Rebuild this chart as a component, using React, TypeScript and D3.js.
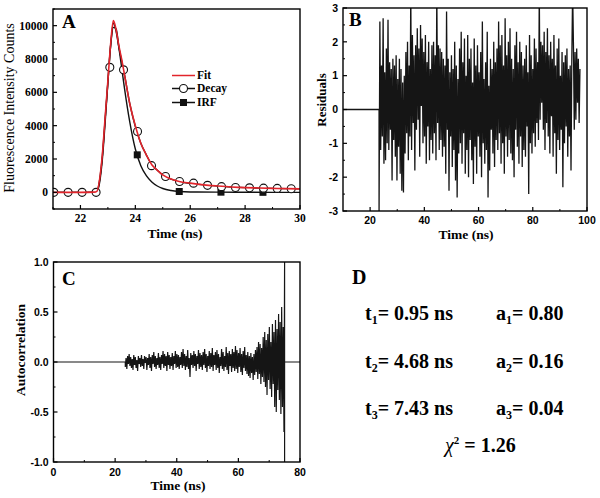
import * as d3 from "d3";

// ---- panel A : decay curves ----
const fitTime = [21, 22, 22.5, 22.6, 22.7, 22.8, 22.9, 23.0, 23.1, 23.2, 23.3, 23.4, 23.5, 23.6, 23.8, 24.0, 24.2, 24.4, 24.6, 24.8, 25.0, 25.3, 25.6, 26.0, 26.5, 27.0, 27.5, 28.0, 28.5, 29.0, 29.5, 30];
const fitCounts = [0, 0, 10, 60, 800, 2300, 4500, 6700, 8900, 10300, 9750, 8800, 8000, 7100, 5300, 4000, 2950, 2250, 1650, 1330, 1050, 800, 650, 550, 450, 380, 320, 280, 260, 240, 220, 210];
const decayCounts = [0, 0, 10, 50, 750, 2200, 4400, 6600, 8800, 10150, 9650, 8700, 7900, 7100, 5300, 3950, 2950, 2250, 1650, 1330, 1030, 790, 640, 540, 445, 375, 320, 280, 255, 240, 220, 210];
const decayMarkTime = [21.03, 21.55, 22.06, 22.57, 23.07, 23.57, 24.08, 24.59, 25.1, 25.61, 26.12, 26.63, 27.14, 27.65, 28.16, 28.67, 29.17, 29.68];
const decayMarkCounts = [0, 0, 0, 0, 7500, 7350, 3650, 1600, 950, 650, 550, 420, 340, 290, 270, 250, 235, 215];
const irfTime = [21, 22, 22.5, 22.6, 22.7, 22.8, 22.9, 23.0, 23.1, 23.2, 23.3, 23.4, 23.5, 23.6, 23.8, 24.0, 24.2, 24.4, 24.6, 24.8, 25.0, 25.3, 25.6, 26, 27, 28, 29, 30];
const irfCounts = [0, 0, 0, 40, 600, 2000, 4200, 6600, 8800, 9900, 9800, 8700, 7500, 6300, 4200, 2600, 1600, 1000, 620, 380, 230, 110, 50, 20, 10, 5, 0, 0];
const irfMarkTime = [24.07, 25.6, 27.12, 28.65];
const irfMarkCounts = [2250, 50, 10, 0];
const countTicks = [0, 2000, 4000, 6000, 8000, 10000];
const countMinor = [-1000, 1000, 3000, 5000, 7000, 9000, 11000];
const timeTicksA = [22, 24, 26, 28, 30];
const timeMinorA = [21, 23, 25, 27, 29];
const legendA = ["Fit", "Decay", "IRF"];

// ---- panel B : residuals ----
const residLeadTime = [10, 23.3];
const residStart = 23.3;
const residStep = 0.3;
const residuals = [
  -3.2, 2.6, -1.2, 1.3, -0.8, 2.7, -1.6, 1.1, -1.5, 1.8,
  -1.0, 2.65, -1.2, 1.4, -0.6, 1.2, -2.1, 1.5, -0.9, 1.3,
  -1.4, 1.6, -2.1, 0.9, -1.1, 1.5, -1.9, 1.2, -2.4, 0.8,
  -2.45, 1.0, -1.3, 1.7, -0.7, 2.0, -1.5, 1.3, -0.8, 3.5,
  -1.2, 2.2, -0.4, 1.6, -1.8, 1.9, -0.6, 2.4, -0.3, 1.8,
  -1.4, 2.5, 0.1, 2.1, -1.0, 1.7, -0.8, 2.2, -1.6, 1.4,
  -0.5, 2.0, -1.5, 1.2, -0.9, 1.9, -1.3, 2.0, -0.7, 1.6,
  -1.5, 3.5, -0.4, 1.9, -1.2, 1.8, -0.9, 1.7, -1.4, 1.5,
  -1.1, 1.3, -1.9, 2.9, -0.6, 1.5, -2.4, 1.1, -0.8, 1.6,
  -1.7, 1.2, -1.2, 2.0, -2.1, 1.3, -2.6, 0.9, -1.3, 1.8,
  -1.0, 2.3, -1.6, 1.4, -0.7, 2.1, -1.9, 1.0, -1.2, 2.2,
  -2.0, 1.5, -0.9, 1.8, -1.5, 0.8, -2.2, 2.1, -1.1, 1.3,
  -1.9, 1.9, -0.8, 1.1, -1.4, 1.7, -2.0, 2.6, -1.0, 0.9,
  -1.6, 1.4, -1.2, 2.3, -2.6, 0.7, -1.8, 1.5, -0.6, 1.2,
  -1.3, 2.0, -1.7, 1.4, -0.9, 1.8, -1.2, 2.6, -0.7, 1.9,
  -1.6, 2.2, -1.0, 1.3, -1.9, 2.7, -0.8, 1.6, -1.4, 2.0,
  -0.9, 2.4, -1.3, 1.5, -1.5, 1.2, -2.0, 1.9, -0.6, 2.3,
  -1.1, 1.4, -1.6, 2.0, -0.8, 1.7, -1.7, 1.3, -1.2, 1.5,
  -1.4, 1.9, -0.5, 1.1, -2.5, 2.2, -1.0, 1.6, -1.3, 1.2,
  -0.7, 2.1, -1.1, 1.8, -0.4, 1.4, -0.9, 3.5, -0.3, 2.0,
  0.2, 1.9, -0.6, 2.3, -1.2, 1.7, -0.4, 2.4, -0.8, 1.6,
  -1.3, 2.0, -0.2, 1.5, -1.4, 2.2, -0.7, 1.3, -1.9, 1.8,
  -0.9, 2.1, -1.2, 1.0, -0.6, 1.7, -2.3, 1.4, -1.0, 1.6,
  -0.5, 1.8, -1.4, 1.2, -0.8, 1.3, -1.8, 1.5, 3.5, 1.9,
  -0.6, 1.7, -0.3, 1.8, 0.2, 1.5, -0.4, 1.2,
];
const residTicksY = [-3, -2, -1, 0, 1, 2, 3];
const residMinorY = [-2.5, -1.5, -0.5, 0.5, 1.5, 2.5];
const timeTicksB = [20, 40, 60, 80, 100];
const timeMinorB = [30, 50, 70, 90];

// ---- panel C : autocorrelation ----
const acLeadTime = [0, 23.3];
const acStart = 23.3;
const acStep = 0.25;
const autocorr = [
  -0.05, 0.04, -0.07, 0.06, -0.02, 0.08, -0.04, 0.05, -0.06, 0.03,
  -0.08, 0.07, -0.03, 0.05, -0.06, 0.02, -0.09, 0.06, -0.02, 0.04,
  -0.05, 0.07, -0.04, 0.03, -0.07, 0.06, -0.01, 0.05, -0.08, 0.04,
  -0.03, 0.08, -0.06, 0.05, -0.09, 0.07, -0.02, 0.10, -0.05, 0.06,
  -0.07, 0.04, -0.03, 0.09, -0.06, 0.05, -0.08, 0.07, -0.02, 0.11,
  -0.06, 0.08, -0.04, 0.06, -0.09, 0.10, -0.03, 0.07, -0.07, 0.05,
  -0.04, 0.09, -0.08, 0.06, -0.02, 0.11, -0.06, 0.08, -0.05, 0.07,
  -0.07, 0.05, -0.03, 0.10, -0.06, 0.13, -0.04, 0.08, -0.08, 0.06,
  -0.05, 0.12, -0.07, 0.04, -0.15, 0.09, -0.03, 0.07, -0.06, 0.11,
  -0.04, 0.08, -0.09, 0.06, -0.02, 0.12, -0.07, 0.09, -0.05, 0.07,
  -0.08, 0.10, -0.03, 0.13, -0.06, 0.08, -0.10, 0.06, -0.04, 0.11,
  -0.07, 0.09, -0.05, 0.14, -0.09, 0.07, -0.03, 0.10, -0.08, 0.12,
  -0.06, 0.08, -0.11, 0.05, -0.04, 0.13, -0.07, 0.10, -0.09, 0.06,
  -0.05, 0.15, -0.08, 0.09, -0.12, 0.11, -0.04, 0.08, -0.10, 0.13,
  -0.06, 0.10, -0.09, 0.16, -0.07, 0.12, -0.11, 0.09, -0.05, 0.14,
  -0.10, 0.08, -0.13, 0.11, -0.06, 0.15, -0.09, 0.07, -0.12, 0.10,
  -0.14, 0.06, -0.16, 0.09, -0.11, 0.05, -0.18, 0.08, -0.13, 0.12,
  -0.10, 0.15, -0.17, 0.20, -0.12, 0.18, -0.22, 0.14, -0.15, 0.25,
  -0.20, 0.30, -0.25, 0.22, -0.33, 0.28, -0.18, 0.35, -0.27, 0.20,
  -0.35, 0.38, -0.22, 0.30, -0.45, 0.42, -0.50, 0.33, -0.28, 0.48,
  -0.38, 0.40, -0.52, 0.55, -0.45, 0.35, -0.70,
];
const acTailTime = [75, 75, 75, 80];
const acTailValue = [1.0, -1.0, 0, 0];
const acTicksY = [-1, -0.5, 0, 0.5, 1];
const acMinorY = [-0.75, -0.25, 0.25, 0.75];
const timeTicksC = [0, 20, 40, 60, 80];
const timeMinorC = [10, 30, 50, 70];

// ---- panel D : fit parameters ----
const tauLabels = ["0.95", "4.68", "7.43"];
const ampLabels = ["0.80", "0.16", "0.04"];
const chiSq = "1.26";

const SERIF = "'Liberation Serif', 'Times New Roman', serif";
const SANS = "'Liberation Sans', Arial, sans-serif";
const RED = "#e2242b";

type Scale = d3.ScaleLinear<number, number>;

function Frame({ x, y, xTicks, xMinor, yTicks, yMinor, fmtY, font, size, xLabelDy }: any) {
  const [x0, x1] = x.range();
  const [y0, y1] = y.range();
  return (
    <g>
      {xTicks.map((t: number) => (
        <g key={"xt" + t}>
          <line x1={x(t)} x2={x(t)} y1={y0} y2={y0 - 4} stroke="#000" strokeWidth={1.2} />
          <text x={x(t)} y={y0 + xLabelDy} textAnchor="middle" fontFamily={font} fontWeight="bold" fontSize={size}>{t}</text>
        </g>
      ))}
      {xMinor.map((t: number) => (
        <line key={"xm" + t} x1={x(t)} x2={x(t)} y1={y0} y2={y0 - 2} stroke="#000" strokeWidth={1} />
      ))}
      {yTicks.map((t: number) => (
        <g key={"yt" + t}>
          <line x1={x0} x2={x0 + 4} y1={y(t)} y2={y(t)} stroke="#000" strokeWidth={1.2} />
          <text x={x0 - 5} y={y(t) + size * 0.35} textAnchor="end" fontFamily={font} fontWeight="bold" fontSize={size}>{fmtY(t)}</text>
        </g>
      ))}
      {yMinor.map((t: number) => (
        <line key={"ym" + t} x1={x0} x2={x0 + 2} y1={y(t)} y2={y(t)} stroke="#000" strokeWidth={1} />
      ))}
      <rect x={x0} y={y1} width={x1 - x0} height={y0 - y1} fill="none" stroke="#000" strokeWidth={1.4} />
    </g>
  );
}

export default function App() {
  // panel A
  const xA: Scale = d3.scaleLinear().domain([21, 30]).range([53, 300]);
  const yA: Scale = d3.scaleLinear().domain([-1000, 11000]).range([209, 9]);
  const lineA = d3.line<[number, number]>().x((d) => xA(d[0])).y((d) => yA(d[1])).curve(d3.curveMonotoneX);
  const fitPath = lineA(fitTime.map((t, i) => [t, fitCounts[i]]));
  const decayPath = lineA(fitTime.map((t, i) => [t, decayCounts[i]]));
  const irfPath = lineA(irfTime.map((t, i) => [t, irfCounts[i]]));

  // panel B
  const xB: Scale = d3.scaleLinear().domain([10, 100]).range([343, 587]);
  const yB: Scale = d3.scaleLinear().domain([-3, 3]).range([211, 8]);
  const residPts: [number, number][] = [
    ...residLeadTime.map((t) => [t, 0] as [number, number]),
    ...residuals.map((v, i) => [residStart + i * residStep, v] as [number, number]),
  ];
  const residPath = d3.line<[number, number]>().x((d) => xB(d[0])).y((d) => yB(d[1]))(residPts);

  // panel C
  const xC: Scale = d3.scaleLinear().domain([0, 80]).range([53.5, 300]);
  const yC: Scale = d3.scaleLinear().domain([-1, 1]).range([462, 262]);
  const acPts: [number, number][] = [
    ...acLeadTime.map((t) => [t, 0] as [number, number]),
    ...autocorr.map((v, i) => [acStart + i * acStep, v] as [number, number]),
    ...acTailTime.map((t, i) => [t, acTailValue[i]] as [number, number]),
  ];
  const acPath = d3.line<[number, number]>().x((d) => xC(d[0])).y((d) => yC(d[1]))(acPts);

  const legY = [75.5, 88.5, 102.5];

  return (
    <svg width={600} height={498} style={{ position: "absolute", left: 0, top: 0, background: "#fff" }}>
      <defs>
        <clipPath id="clipA"><rect x={53} y={9} width={247} height={200} /></clipPath>
        <clipPath id="clipB"><rect x={343} y={8} width={244} height={203} /></clipPath>
        <clipPath id="clipC"><rect x={53.5} y={262} width={246.5} height={200} /></clipPath>
      </defs>

      {/* A */}
      <g clipPath="url(#clipA)">
        <path d={irfPath!} fill="none" stroke="#111" strokeWidth={1.4} />
        <path d={decayPath!} fill="none" stroke="#111" strokeWidth={1.4} />
        {irfMarkTime.map((t, i) => (
          <rect key={"sq" + i} x={xA(t) - 3.5} y={yA(irfMarkCounts[i]) - 3.5} width={7} height={7} fill="#111" />
        ))}
        {decayMarkTime.map((t, i) => (
          <circle key={"c" + i} cx={xA(t)} cy={yA(decayMarkCounts[i])} r={4} fill="#fff" stroke="#111" strokeWidth={1.1} />
        ))}
        <path d={fitPath!} fill="none" stroke={RED} strokeWidth={1.6} />
      </g>
      <Frame x={xA} y={yA} xTicks={timeTicksA} xMinor={timeMinorA} yTicks={countTicks} yMinor={countMinor}
        fmtY={(v: number) => String(v)} font={SERIF} size={11.5} xLabelDy={13} />
      <text x={62} y={28} fontFamily={SERIF} fontWeight="bold" fontSize={19}>A</text>
      {legendA.map((name, i) => (
        <g key={name}>
          <line x1={172} x2={195} y1={legY[i]} y2={legY[i]} stroke={i === 0 ? RED : "#111"} strokeWidth={1.5} />
          {i === 1 && <circle cx={183.5} cy={legY[i]} r={4} fill="#fff" stroke="#111" strokeWidth={1.1} />}
          {i === 2 && <rect x={180} y={legY[i] - 3.5} width={7} height={7} fill="#111" />}
          <text x={197} y={legY[i] + 3.8} fontFamily={SERIF} fontWeight="bold" fontSize={11.5}>{name}</text>
        </g>
      ))}
      <text transform="translate(14,108) rotate(-90)" textAnchor="middle" fontFamily={SERIF} fontSize={14}>
        Fluorescence Intensity Counts
      </text>
      <text x={175} y={238} textAnchor="middle" fontFamily={SERIF} fontWeight="bold" fontSize={13.5}>Time (ns)</text>

      {/* B */}
      <g clipPath="url(#clipB)">
        <path d={residPath!} fill="none" stroke="#151515" strokeWidth={1.3} />
      </g>
      <Frame x={xB} y={yB} xTicks={timeTicksB} xMinor={timeMinorB} yTicks={residTicksY} yMinor={residMinorY}
        fmtY={(v: number) => String(v)} font={SANS} size={10.5} xLabelDy={13} />
      <text x={349} y={26} fontFamily={SERIF} fontWeight="bold" fontSize={19}>B</text>
      <text transform="translate(326,100) rotate(-90)" textAnchor="middle" fontFamily={SERIF} fontWeight="bold" fontSize={13}>
        Residuals
      </text>
      <text x={466} y={239} textAnchor="middle" fontFamily={SERIF} fontWeight="bold" fontSize={13.5}>Time (ns)</text>

      {/* C */}
      <g clipPath="url(#clipC)">
        <path d={acPath!} fill="none" stroke="#151515" strokeWidth={1.2} />
      </g>
      <Frame x={xC} y={yC} xTicks={timeTicksC} xMinor={timeMinorC} yTicks={acTicksY} yMinor={acMinorY}
        fmtY={(v: number) => v.toFixed(1)} font={SANS} size={10.5} xLabelDy={13.5} />
      <text x={62} y={285} fontFamily={SERIF} fontWeight="bold" fontSize={19}>C</text>
      <text transform="translate(25,350) rotate(-90)" textAnchor="middle" fontFamily={SERIF} fontWeight="bold" fontSize={13.5}>
        Autocorrelation
      </text>
      <text x={178} y={490} textAnchor="middle" fontFamily={SERIF} fontWeight="bold" fontSize={13.5}>Time (ns)</text>

      {/* D */}
      <text x={352} y={284} fontFamily={SERIF} fontWeight="bold" fontSize={20}>D</text>
      {tauLabels.map((tau, i) => (
        <g key={"row" + i} fontFamily={SERIF} fontWeight="bold" fontSize={20}>
          <text x={365} y={320 + i * 47.5}>
            t<tspan fontSize={12} dy={4}>{i + 1}</tspan><tspan dy={-4}>= {tau} ns</tspan>
          </text>
          <text x={496} y={320 + i * 47.5}>
            a<tspan fontSize={12} dy={4}>{i + 1}</tspan><tspan dy={-4}>= {ampLabels[i]}</tspan>
          </text>
        </g>
      ))}
      <text x={445} y={452} fontFamily={SERIF} fontWeight="bold" fontSize={20}>
        <tspan fontStyle="italic" fontWeight="normal">χ</tspan><tspan fontSize={11} dy={-8}>2</tspan><tspan dy={8}> = {chiSq}</tspan>
      </text>
    </svg>
  );
}
